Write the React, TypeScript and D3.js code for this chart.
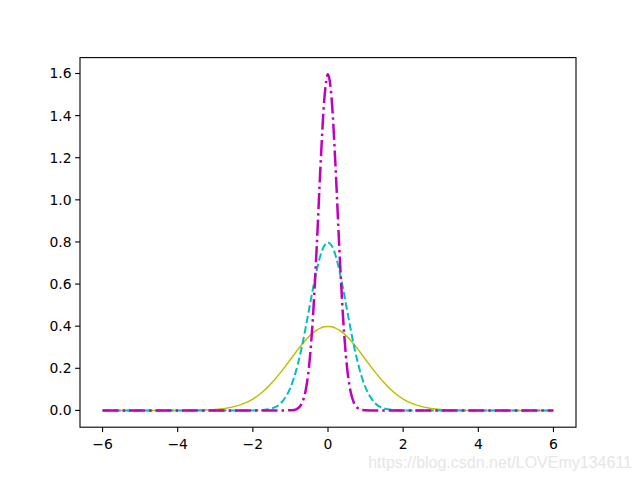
import React from "react";
import * as d3 from "d3";

// sample positions (x)
const xs = [
  -6, -5, -4, -3.5, -3, -2.5, -2.25, -2, -1.75, -1.5, -1.25, -1, -0.9, -0.8, -0.7, -0.6, -0.5, -0.4, -0.3, -0.2, -0.1,
  0,
  0.1, 0.2, 0.3, 0.4, 0.5, 0.6, 0.7, 0.8, 0.9, 1, 1.25, 1.5, 1.75, 2, 2.25, 2.5, 3, 3.5, 4, 5, 6,
];

// yellow solid curve
const yellowHalf = [0, 0, 0, 0.001, 0.004, 0.018, 0.032, 0.054, 0.086, 0.13, 0.183, 0.242, 0.266, 0.29, 0.312, 0.333, 0.352, 0.368, 0.381, 0.391, 0.397];
const yellowPeak = 0.399;
// cyan dashed curve
const cyanHalf = [0, 0, 0, 0, 0, 0, 0, 0, 0.002, 0.009, 0.035, 0.108, 0.158, 0.222, 0.299, 0.388, 0.484, 0.579, 0.666, 0.737, 0.782];
const cyanPeak = 0.798;
// magenta dash-dot curve
const magentaHalf = [0, 0, 0, 0, 0, 0, 0, 0, 0, 0, 0, 0.001, 0.002, 0.01, 0.032, 0.09, 0.216, 0.444, 0.777, 1.159, 1.473];
const magentaPeak = 1.596;

const xTicks = [-6, -4, -2, 0, 2, 4, 6];
const yTicks = [0, 0.2, 0.4, 0.6, 0.8, 1.0, 1.2, 1.4, 1.6];

const mirror = (half: number[], peak: number) => [...half, peak, ...half.slice().reverse()];

const series = [
  { values: mirror(yellowHalf, yellowPeak), color: "#bfbf00", width: 1.5, dash: "none" },
  { values: mirror(cyanHalf, cyanPeak), color: "#00bfbf", width: 2, dash: "7.4,3.2" },
  { values: mirror(magentaHalf, magentaPeak), color: "#bf00bf", width: 2.5, dash: "16,4,2.5,4" },
];

const W = 640;
const H = 480;
const left = 80;
const right = 576;
const top = 57.6;
const bottom = 427.2;

const fmtX = (v: number) => (v < 0 ? "\u2212" + Math.abs(v) : String(v));

export default function App() {
  const x = d3.scaleLinear().domain([-6.6, 6.6]).range([left, right]);
  const y = d3.scaleLinear().domain([-0.0798, 1.6756]).range([bottom, top]);

  const line = d3
    .line<number>()
    .x((_, i) => x(xs[i]))
    .y((d) => y(d))
    .curve(d3.curveMonotoneX);

  const font = "DejaVu Sans, sans-serif";

  return (
    <svg width={W} height={H} style={{ position: "absolute", left: 0, top: 0, background: "#fff" }}>
      <rect x={0} y={0} width={W} height={H} fill="#fff" />
      {series.map((s, i) => (
        <path
          key={i}
          d={line(s.values) || ""}
          fill="none"
          stroke={s.color}
          strokeWidth={s.width}
          strokeDasharray={s.dash}
        />
      ))}
      <rect x={left} y={top} width={right - left} height={bottom - top} fill="none" stroke="#000" strokeWidth={1.1} />
      {xTicks.map((t) => (
        <g key={t} transform={`translate(${x(t)},${bottom})`}>
          <line y2={4.9} stroke="#000" strokeWidth={1.1} />
          <text y={19} textAnchor="middle" fontFamily={font} fontSize={13.9} dy="0.2em">
            {fmtX(t)}
          </text>
        </g>
      ))}
      {yTicks.map((t) => (
        <g key={t} transform={`translate(${left},${y(t)})`}>
          <line x2={-4.9} stroke="#000" strokeWidth={1.1} />
          <text x={-8.5} textAnchor="end" dy="0.35em" fontFamily={font} fontSize={13.9}>
            {t.toFixed(1)}
          </text>
        </g>
      ))}
      <text
        x={632}
        y={468}
        textAnchor="end"
        fontFamily="Liberation Sans, Arial, sans-serif"
        fontSize={16}
        fill="#e6e6e6"
      >
        https://blog.csdn.net/LOVEmy134611
      </text>
    </svg>
  );
}
